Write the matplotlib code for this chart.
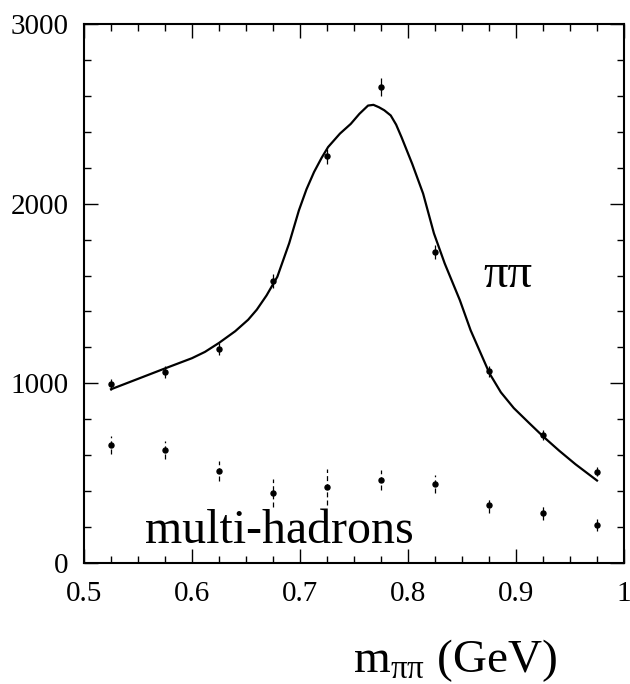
import numpy as np
import matplotlib
matplotlib.use("Agg")
import matplotlib.pyplot as plt
from matplotlib.ticker import MultipleLocator

plt.rcParams['font.family'] = ['Liberation Serif', 'DejaVu Serif']
plt.rcParams['mathtext.fontset'] = 'custom'
plt.rcParams['mathtext.rm'] = 'Liberation Serif'
plt.rcParams['mathtext.it'] = 'Liberation Serif:italic'

# bin centres (GeV)
mass = [0.525, 0.575, 0.625, 0.675, 0.725, 0.775, 0.825, 0.875, 0.925, 0.975]

# pi pi events
pipi = [995, 1062, 1190, 1570, 2265, 2648, 1732, 1066, 710, 508]
pipi_err = [30, 32, 35, 40, 42, 50, 40, 32, 28, 25]

# multi-hadron events
multi = [659, 631, 511, 390, 424, 461, 439, 325, 279, 212]
multi_err = [50, 50, 55, 78, 100, 55, 50, 45, 40, 35]

# fitted curve
fit_x = [0.525, 0.55, 0.575, 0.60, 0.612, 0.625, 0.64, 0.652, 0.66, 0.669, 0.679,
         0.69, 0.699, 0.706, 0.713, 0.72, 0.726, 0.737, 0.747, 0.755, 0.763, 0.768,
         0.773, 0.778, 0.784, 0.789, 0.794, 0.804, 0.814, 0.824, 0.834, 0.848,
         0.858, 0.8755, 0.886, 0.898, 0.912, 0.925, 0.94, 0.955, 0.975]
fit_y = [967, 1025, 1083, 1140, 1175, 1225, 1290, 1354, 1410, 1489, 1593,
         1780, 1963, 2080, 2176, 2255, 2315, 2390, 2444, 2500, 2546, 2550,
         2537, 2520, 2491, 2440, 2370, 2220, 2056, 1835, 1667, 1463,
         1295, 1055, 950, 862, 780, 705, 625, 550, 459]

fig = plt.figure(figsize=(6.3, 6.84), dpi=100)
ax = fig.add_axes([84 / 630, 1 - 563 / 684, 540 / 630, 539 / 684])

ax.plot(fit_x, fit_y, color='black', lw=1.6)

eb = ax.errorbar(mass, pipi, yerr=pipi_err, fmt='o', color='black', ms=3.6,
                 elinewidth=0.9, capsize=0)
eb2 = ax.errorbar(mass, multi, yerr=multi_err, fmt='o', color='black', ms=3.6,
                  elinewidth=0.9, capsize=0)
for lc in eb2[2]:
    lc.set_linestyle((0, (4, 2.5)))

ax.set_xlim(0.5, 1.0)
ax.set_ylim(0, 3000)
ax.xaxis.set_major_locator(MultipleLocator(0.1))
ax.xaxis.set_minor_locator(MultipleLocator(0.025))
ax.yaxis.set_major_locator(MultipleLocator(1000))
ax.yaxis.set_minor_locator(MultipleLocator(200))
ax.set_xticks([0.5, 0.6, 0.7, 0.8, 0.9, 1.0], ['0.5', '0.6', '0.7', '0.8', '0.9', '1'])

ax.tick_params(which='both', direction='in', top=True, right=True, width=1.0, labelsize=21)
ax.tick_params(which='major', length=10)
ax.tick_params(which='minor', length=5)
ax.tick_params(axis='x', pad=13)
ax.tick_params(axis='y', pad=11)
for sp in ax.spines.values():
    sp.set_linewidth(1.5)

ax.text(0.8694, 1536, 'ππ', fontsize=35)
ax.text(0.5565, 111, 'multi-hadrons', fontsize=34.5)

fig.text(353 / 630, 1 - 672 / 684, r'm$_{\mathrm{ππ}}$ (GeV)', fontsize=34,
         ha='left', va='baseline')

fig.savefig('out.png', dpi=100)
